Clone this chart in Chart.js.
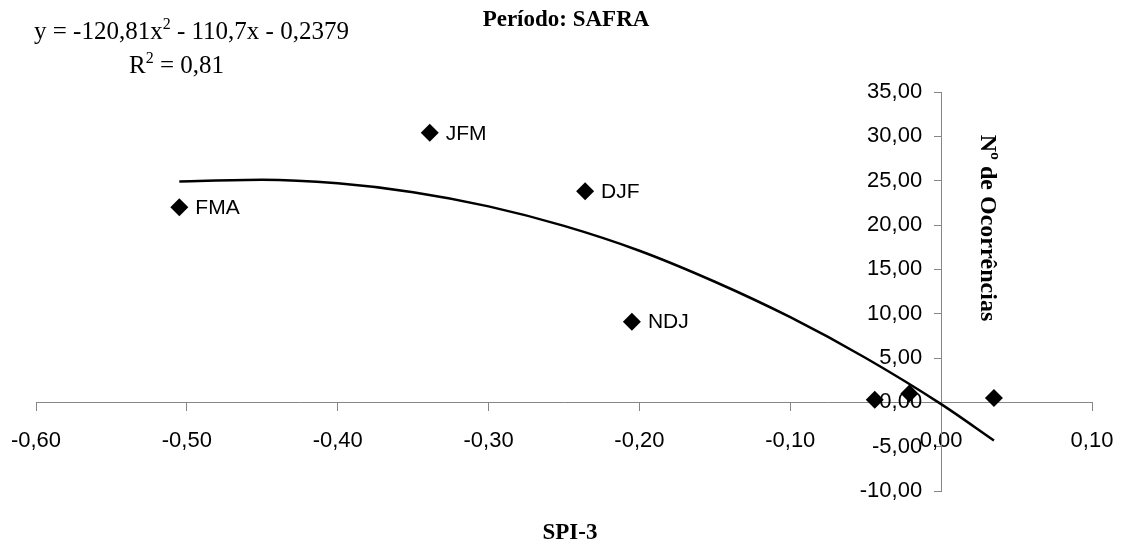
<!DOCTYPE html>
<html lang="pt">
<head>
<meta charset="utf-8">
<script src="https://cdn.jsdelivr.net/npm/chart.js@4.4.1/dist/chart.umd.min.js"></script>
<style>
  html, body { margin: 0; padding: 0; background: #fff; }
  #grafico { width: 1125px; height: 552px; }
</style>
</head>
<body>
<div id="grafico"><canvas id="myChart"></canvas></div>
<script>
//Dados
const periodos = ["FMA", "JFM", "DJF", "NDJ", "", "", ""];
const spi3 = [-0.505, -0.339, -0.236, -0.205, -0.044, -0.021, 0.035];
const ocorrencias = [22.0, 30.4, 23.8, 9.1, 0.3, 1.0, 0.5];

//Linha de tendencia polinomial
const tendX = [-0.505, -0.45, -0.40, -0.35, -0.30, -0.25, -0.20, -0.15, -0.10, -0.05, 0.00, 0.035];
const tendY = [24.9, 25.1, 24.7, 23.7, 22.1, 19.9, 17.1, 13.6, 9.6, 5.0, -0.2, -4.3];

//Ticks dos eixos
const ticksX = [-0.60, -0.50, -0.40, -0.30, -0.20, -0.10, 0.00, 0.10];
const ticksY = [-10, -5, 0, 5, 10, 15, 20, 25, 30, 35];

//Textos
const titulo = "Período: SAFRA";
const tituloX = "SPI-3";
const tituloY = "Nº de Ocorrências";
const equacao = ["y = -120,81x", "2", " - 110,7x - 0,2379"];
const r2 = ["R", "2", " = 0,81"];

const fonteSerif = '"Liberation Serif", "Times New Roman", serif';
const fonteSans = '"Liberation Sans", Arial, sans-serif';

function formatar(v) {
  return v.toFixed(2).replace(".", ",");
}

//Desenha texto com expoente
function textoComExpoente(ctx, partes, x, y, tam) {
  ctx.textAlign = "left";
  ctx.textBaseline = "alphabetic";
  ctx.font = tam + "px " + fonteSerif;
  ctx.fillText(partes[0], x, y);
  x += ctx.measureText(partes[0]).width;
  ctx.font = Math.round(tam * 0.62) + "px " + fonteSerif;
  ctx.fillText(partes[1], x, y - tam * 0.42);
  x += ctx.measureText(partes[1]).width;
  ctx.font = tam + "px " + fonteSerif;
  ctx.fillText(partes[2], x, y);
}

const textosExtras = {
  id: "textosExtras",
  afterDatasetsDraw(chart) {
    const ctx = chart.ctx;
    const sx = chart.scales.x;
    const sy = chart.scales.y;
    ctx.save();
    ctx.fillStyle = "#000";

    //rotulos do eixo y (a esquerda do eixo em x = 0)
    const eixoY = sx.getPixelForValue(0);
    ctx.font = "22px " + fonteSans;
    ctx.textAlign = "right";
    ctx.textBaseline = "middle";
    sy.ticks.forEach((t) => {
      ctx.fillText(formatar(t.value), eixoY - 19, sy.getPixelForValue(t.value));
    });

    //rotulos dos pontos
    ctx.font = "21px " + fonteSans;
    ctx.textAlign = "left";
    periodos.forEach((p, i) => {
      if (p) {
        ctx.fillText(p, sx.getPixelForValue(spi3[i]) + 16, sy.getPixelForValue(ocorrencias[i]) + 1);
      }
    });

    //titulos
    ctx.font = "bold 23px " + fonteSerif;
    ctx.textAlign = "center";
    ctx.fillText(titulo, 566, 20);
    ctx.fillText(tituloX, 570, 533);

    ctx.save();
    ctx.translate(987, 228);
    ctx.rotate(Math.PI / 2);
    ctx.font = "bold 24px " + fonteSerif;
    ctx.fillText(tituloY, 0, 0);
    ctx.restore();

    //equacao da tendencia
    textoComExpoente(ctx, equacao, 34, 39, 25);
    textoComExpoente(ctx, r2, 129, 73, 25);

    ctx.restore();
  }
};

const myChart = document.getElementById("myChart");

const config = {
  type: "scatter",
  data: {
    datasets: [
      {
        label: "Ocorrências",
        data: spi3.map((x, i) => ({ x: x, y: ocorrencias[i] })),
        pointStyle: "rectRot",
        pointRadius: 9,
        pointHoverRadius: 9,
        backgroundColor: "#000",
        borderColor: "#000",
        borderWidth: 0,
        order: 2,
      },
      {
        label: "Tendência",
        type: "line",
        data: tendX.map((x, i) => ({ x: x, y: tendY[i] })),
        borderColor: "#000",
        borderWidth: 2.5,
        pointRadius: 0,
        cubicInterpolationMode: "monotone",
        fill: false,
        order: 1,
      },
    ],
  },
  options: {
    responsive: true,
    maintainAspectRatio: false,
    animation: false,
    layout: {
      padding: { left: 36, right: 33, top: 92, bottom: 61 },
    },
    plugins: {
      legend: { display: false },
      tooltip: { enabled: false },
      title: { display: false },
    },
    scales: {
      x: {
        type: "linear",
        position: { y: 0 },
        min: -0.6,
        max: 0.1,
        afterBuildTicks: (scale) => {
          scale.ticks = ticksX.map((v) => ({ value: v }));
        },
        afterFit: (scale) => {
          scale.paddingLeft = 0;
          scale.paddingRight = 0;
        },
        grid: {
          drawOnChartArea: false,
          drawTicks: true,
          tickLength: 8,
          color: "#868686",
        },
        border: { color: "#868686", width: 1 },
        ticks: {
          color: "#000",
          font: { family: fonteSans, size: 22 },
          padding: 17,
          maxRotation: 0,
          autoSkip: false,
          callback: (v) => formatar(v),
        },
      },
      y: {
        type: "linear",
        position: { x: 0 },
        min: -10,
        max: 35,
        afterBuildTicks: (scale) => {
          scale.ticks = ticksY.map((v) => ({ value: v }));
        },
        afterFit: (scale) => {
          scale.paddingTop = 0;
          scale.paddingBottom = 0;
        },
        grid: {
          drawOnChartArea: false,
          drawTicks: true,
          tickLength: 7,
          color: "#868686",
        },
        border: { color: "#868686", width: 1 },
        ticks: {
          display: false,
          autoSkip: false,
        },
      },
    },
  },
  plugins: [textosExtras],
};

const graficoDispersao = new Chart(myChart, config);
</script>
</body>
</html>
